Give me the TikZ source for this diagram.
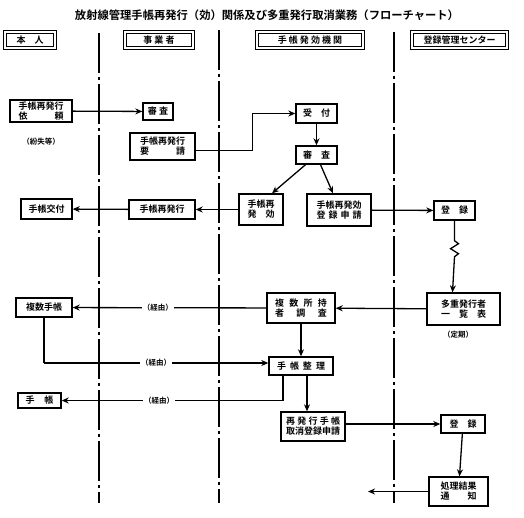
\documentclass[tikz,border=0pt]{standalone}
\usepackage{fontspec}
\setmainfont{Noto Sans CJK JP}[UprightFont={* Bold}]
\usetikzlibrary{arrows.meta}
\newcommand\spr[2]{\makebox[#1]{#2}}
\begin{document}
\begin{tikzpicture}[x=1pt,y=-1pt,
  box/.style={draw, line width=1.4pt, inner sep=0pt, align=center, fill=white,
    font=\fontsize{9}{10}\selectfont},
  hdr/.style={draw, double, line width=0.9pt, double distance=1.5pt, inner sep=0pt,
    minimum height=16pt, font=\fontsize{9}{10}\selectfont},
  arr/.style={line width=1.3pt, -{Stealth[length=7pt,width=6pt]}},
  ln/.style={line width=1.3pt},
  lbl/.style={fill=white, inner sep=1pt, font=\fontsize{7.5}{8}\selectfont},
  note/.style={inner sep=0pt, font=\fontsize{7.5}{8}\selectfont},
  lane/.style={line width=1.3pt, dash pattern=on 40pt off 4pt on 3pt off 4pt}]
\useasboundingbox (0,0) rectangle (524,517);

% title
\node[font=\fontsize{11.3}{12}\selectfont] (title) at (267,15)
  {放射線管理手帳再発行（効）関係及び多重発行取消業務（フローチャート）};

% lanes
\draw[lane] (99,33) -- (99,503);
\draw[lane] (219,30) -- (219,503);
\draw[lane] (394,32) -- (394,503);

% headers
\node[hdr, minimum width=50pt] (h1) at (30,40) {本　人};
\node[hdr, minimum width=68pt] (h2) at (159,40) {事\ 業\ 者};
\node[hdr, minimum width=106pt] (h3) at (310,40) {手\ 帳\ 発\ 効\ 機\ 関};
\node[hdr, minimum width=95pt] (h4) at (459.5,40) {登録管理センター};

% nodes
\node[box, minimum width=62pt, minimum height=22pt] (irai) at (41,111)
  {手帳再発行\\\spr{45pt}{依\hfill 頼}};
\node[note] (funshitsu) at (41,142) {（紛失等）};
\node[box, minimum width=30pt, minimum height=17pt] (shinsa1) at (158,111.5) {審\ 査};
\node[box, minimum width=65pt, minimum height=27pt] (yousei) at (162.5,146.5)
  {手帳再発行\\\spr{45pt}{要\hfill 請}};
\node[box, minimum width=41pt, minimum height=19pt] (uketsuke) at (316.5,113.5) {受　付};
\node[box, minimum width=41pt, minimum height=18pt] (shinsa2) at (316.5,155) {審　査};
\node[box, minimum width=44pt, minimum height=31pt] (saihakko) at (261,209.5)
  {手帳再\\\spr{27pt}{発\hfill 効}};
\node[box, minimum width=64pt, minimum height=32pt] (shinsei) at (339,210)
  {手帳再発効\\\spr{45pt}{登\hfill 録\hfill 申\hfill 請}};
\node[box, minimum width=41pt, minimum height=19pt] (toroku1) at (454.5,210.5) {登　録};
\node[box, minimum width=66pt, minimum height=19pt] (saihakkou) at (162,209.5) {手帳再発行};
\node[box, minimum width=51pt, minimum height=20pt] (koufu) at (46.5,209) {手帳交付};
\node[box, minimum width=56pt, minimum height=19pt] (fukusu) at (44,307.5) {複数手帳};
\node[box, minimum width=68pt, minimum height=30pt] (chosa) at (301,308)
  {\spr{52pt}{複\hfill 数\hfill 所\hfill 持}\\\spr{52pt}{者\hfill 調\hfill 査}};
\node[box, minimum width=73pt, minimum height=32pt] (ichiran) at (463.5,309)
  {多重発行者\\\spr{45pt}{一\hfill 覧\hfill 表}};
\node[note] (teiki) at (458,335) {（定期）};
\node[box, minimum width=64pt, minimum height=18pt] (seiri) at (301,366)
  {\spr{48pt}{手\hfill 帳\hfill 整\hfill 理}};
\node[box, minimum width=43pt, minimum height=15pt] (techo) at (39.5,400.5)
  {\spr{28pt}{手\hfill 帳}};
\node[box, minimum width=64pt, minimum height=29pt] (torikeshi) at (313,426.5)
  {\spr{54pt}{再\hfill 発\hfill 行\hfill 手\hfill 帳}\\取消登録申請};
\node[box, minimum width=44pt, minimum height=18pt] (toroku2) at (463,424) {登　録};
\node[box, minimum width=59pt, minimum height=29pt] (tsuchi) at (458.5,491.5)
  {処理結果\\\spr{36pt}{通\hfill 知}};
\coordinate (tsuchiend) at (368,491.5);

% connectors
\draw[arr] (irai) -- (shinsa1);
\draw[arr] ([yshift=-4pt]yousei.east) -- ++(57,0) |- (uketsuke.west);
\draw[arr] (uketsuke) -- (shinsa2);
\draw[arr] ([xshift=-11pt]shinsa2.south) -- ([xshift=11pt]saihakko.north);
\draw[arr] ([xshift=4pt]shinsa2.south) -- ([xshift=-6pt]shinsei.north);
\draw[arr] (saihakko) -- (saihakkou);
\draw[arr] (saihakkou) -- (koufu);
\draw[arr] (shinsei) -- (toroku1);
\draw[arr] (toroku1.south) -- ++(0,20) -- ++(4,3) -- ++(-8,5) -- ++(8,5) -- ++(-4,3)
  -- ([xshift=-11pt]ichiran.north);
\draw[arr] (ichiran) -- (chosa);
\draw[arr] (chosa) -- node[lbl, pos=0.56] {（経由）} (fukusu);
\draw[arr] (chosa) -- (seiri);
\coordinate (c1) at (fukusu.south |- 0,363);
\draw[ln] (fukusu.south) -- (c1);
\draw[arr] (c1) -- node[lbl, pos=0.5] {（経由）} (seiri.west |- c1);
\coordinate (c2) at ([xshift=-18pt]seiri.south |- techo.east);
\draw[ln] ([xshift=-18pt]seiri.south) -- (c2);
\draw[arr] (c2) -- node[lbl, pos=0.56] {（経由）} (techo.east);
\draw[arr] ([xshift=6pt]seiri.south) -- ([xshift=6pt]seiri.south |- torikeshi.north);
\draw[arr] (torikeshi.east |- toroku2.west) -- (toroku2.west);
\draw[arr] (toroku2) -- (tsuchi);
\draw[arr] (tsuchi) -- (tsuchiend);
\end{tikzpicture}
\end{document}
